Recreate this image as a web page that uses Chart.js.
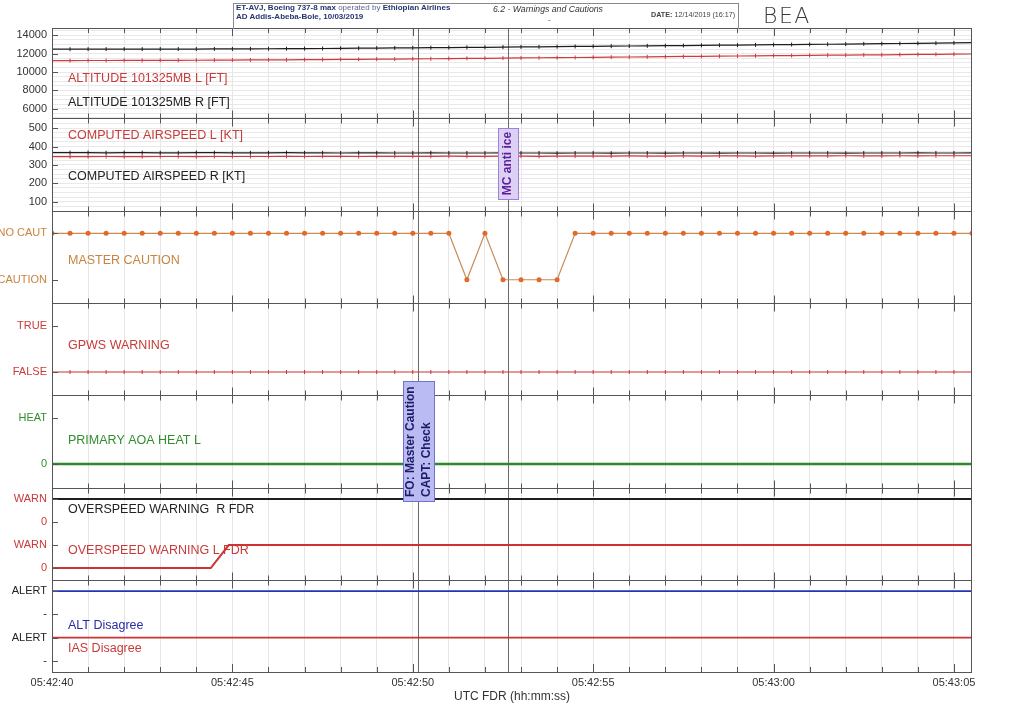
<!DOCTYPE html>
<html>
<head>
<meta charset="utf-8">
<script src="https://cdn.jsdelivr.net/npm/chart.js@4.4.0/dist/chart.umd.min.js"></script>
<style>
  body { margin: 0; background: #fff; }
  #wrap { position: relative; width: 1024px; height: 715px; font-family: "Liberation Sans", Arial, sans-serif; }
  #fdr { position: absolute; left: 0; top: 0; }
  .hd { position: absolute; white-space: nowrap; z-index: 2; }
  .hbox { left: 233px; top: 3px; width: 504px; height: 25px; border: 1px solid #8a8a8a; border-bottom: none; }
  .h1 { left: 236px; top: 3px; font-size: 8px; color: #26366e; }
  .h1 span { color: #5b6690; }
  .h2 { left: 236px; top: 11.5px; font-size: 8px; font-weight: bold; color: #26366e; }
  .htitle { left: 493px; top: 3.5px; font-size: 8.7px; font-style: italic; color: #333; }
  .hdate { left: 651px; top: 10px; font-size: 7.2px; color: #444; }
  .hdash { left: 548px; top: 15px; font-size: 8px; color: #444; }
  .bea { left: 763px; top: 3px; font-family: "DejaVu Sans", sans-serif; font-weight: 200; font-size: 22px; color: #3c3c3c; letter-spacing: 1.5px; }
</style>
</head>
<body>
<div id="wrap">
  <canvas id="fdr" width="1024" height="715"></canvas>
  <div class="hd hbox"></div>
  <div class="hd h1"><b>ET-AVJ, Boeing 737-8 max</b> <span>operated by</span> <b>Ethiopian Airlines</b></div>
  <div class="hd h2">AD Addis-Abeba-Bole, 10/03/2019</div>
  <div class="hd htitle">6.2 - Warnings and Cautions</div>
  <div class="hd hdate"><b>DATE:</b> 12/14/2019 (16:17)</div>
  <div class="hd hdash">-</div>
  <div class="hd bea">BEA</div>
</div>
<script>
// seconds after 05:42:40
const times = [0,0.5,1,1.5,2,2.5,3,3.5,4,4.5,5,5.5,6,6.5,7,7.5,8,8.5,9,9.5,10,10.5,11,11.5,12,12.5,
  13,13.5,14,14.5,15,15.5,16,16.5,17,17.5,18,18.5,19,19.5,20,20.5,21,21.5,22,22.5,23,23.5,24,24.5,25,25.5];
const timeLabels = ["05:42:40", "05:42:45", "05:42:50", "05:42:55", "05:43:00", "05:43:05"];

// altitude 101325mb [ft]
const altR = [12490,12490,12500,12500,12500,12500,12510,12510,12510,12520,
  12520,12530,12540,12550,12560,12570,12590,12600,12610,12630,
  12640,12660,12670,12690,12700,12720,12740,12750,12770,12790,
  12800,12820,12840,12860,12870,12890,12910,12930,12940,12960,
  12980,13000,13010,13030,13050,13070,13090,13110,13130,13150,13170,13200];
const altL = [11250,11250,11260,11260,11270,11270,11280,11280,11290,11300,
  11310,11320,11330,11340,11350,11360,11380,11390,11410,11420,
  11440,11450,11470,11490,11500,11520,11540,11560,11570,11590,
  11610,11630,11640,11660,11680,11700,11720,11730,11750,11770,
  11790,11800,11820,11840,11850,11870,11880,11900,11920,11930,11950,11970];

// computed airspeed [kt]
const spdR = [367,367,367,366,367,367,366,366,367,367,
  366,366,366,367,366,366,365,366,366,365,
  365,366,365,365,365,366,365,365,364,365,
  365,364,365,365,364,365,365,364,365,365,
  364,365,365,365,364,365,365,365,366,365,365,366];
const spdL = [345,345,345,346,345,345,346,346,345,346,
  346,346,346,347,346,347,347,346,347,347,
  347,347,348,347,347,348,348,347,348,348,
  348,348,349,348,348,349,348,349,349,348,
  349,349,349,349,350,349,349,350,349,350,350,350];

// discrete states (1 = NO CAUT, 0 = CAUTION)
const masterCaution = [1,1,1,1,1,1,1,1,1,1,1,1,1,1,1,1,1,1,1,1,1,1,1,
  0,1,0,0,0,0,
  1,1,1,1,1,1,1,1,1,1,1,1,1,1,1,1,1,1,1,1,1,1,1];
const gpws = [0,0,0,0,0,0,0,0,0,0,0,0,0,0,0,0,0,0,0,0,0,0,0,0,0,0,
  0,0,0,0,0,0,0,0,0,0,0,0,0,0,0,0,0,0,0,0,0,0,0,0,0,0];
const spanTimes = [0, 25.5];
const aoaHeat = [0, 0];
const ovsR = [3, 3];          // upper pair of the panel: 2 = 0, 3 = WARN
const ovsLTimes = [0, 4.4, 4.9, 25.5];
const ovsL = [0, 0, 1, 1];    // lower pair: 0 = 0, 1 = WARN
const altDisagree = [3, 3];   // 3 = ALERT
const iasDisagree = [1, 1];   // 1 = ALERT

// tick labels
const altTicks = [6000, 8000, 10000, 12000, 14000];
const spdTicks = [100, 200, 300, 400, 500];
const mcTickVals = [0, 1], mcTickLbls = ["CAUTION", "NO CAUT"];
const gpwsTickVals = [0, 1], gpwsTickLbls = ["FALSE", "TRUE"];
const aoaTickVals = [0, 1], aoaTickLbls = ["0", "HEAT"];
const ovsTickVals = [0, 1, 2, 3], ovsTickLbls = ["0", "WARN", "0", "WARN"];
const disTickVals = [0, 1, 2, 3], disTickLbls = ["-", "ALERT", "-", "ALERT"];

// events: 05:42:50.15 and 05:42:52.64
const eventTimes = [10.15, 12.64];

const pts = (xs, ys) => xs.map((x, i) => ({ x: x, y: ys[i] }));

function numAxis(weight, min, max, minorStep, labels) {
  return {
    type: "linear", position: "left", stack: "fdr", stackWeight: weight,
    min: min, max: max,
    afterBuildTicks: s => {
      const t = [];
      for (let v = min; v <= max; v += minorStep) t.push({ value: v });
      s.ticks = t;
    },
    afterFit: s => { s.width = 52; },
    ticks: {
      autoSkip: false, padding: 5, color: "#333", font: { size: 11 },
      callback: v => labels.includes(v) ? String(v) : ""
    },
    grid: { color: "#e9e9e9", drawTicks: false },
    border: { display: false }
  };
}

function stateAxis(weight, min, max, vals, lbls, color) {
  return {
    type: "linear", position: "left", stack: "fdr", stackWeight: weight,
    min: min, max: max,
    afterBuildTicks: s => { s.ticks = vals.map(v => ({ value: v })); },
    afterFit: s => { s.width = 52; },
    ticks: {
      autoSkip: false, padding: 5, color: color, font: { size: 11 },
      callback: v => lbls[vals.indexOf(v)] ?? ""
    },
    grid: { drawOnChartArea: false, drawTicks: false },
    border: { display: false }
  };
}

// panel captions (offset from panel top)
const captions = [
  { axis: "yDis", dy: 46, text: "ALT Disagree", color: "#2b2ba3" },
  { axis: "yDis", dy: 69, text: "IAS Disagree", color: "#c83a3a" },
  { axis: "yOvs", dy: 22, text: "OVERSPEED WARNING  R FDR", color: "#222" },
  { axis: "yOvs", dy: 63, text: "OVERSPEED WARNING L FDR", color: "#c83a3a" },
  { axis: "yAoa", dy: 46, text: "PRIMARY AOA HEAT L", color: "#2f8f2f" },
  { axis: "yGpws", dy: 43, text: "GPWS WARNING", color: "#c83a3a" },
  { axis: "yMc", dy: 50, text: "MASTER CAUTION", color: "#c8843f" },
  { axis: "ySpd", dy: 18, text: "COMPUTED AIRSPEED L [KT]", color: "#c83a3a" },
  { axis: "ySpd", dy: 59, text: "COMPUTED AIRSPEED R [KT]", color: "#222" },
  { axis: "yAlt", dy: 51, text: "ALTITUDE 101325MB L [FT]", color: "#c83a3a" },
  { axis: "yAlt", dy: 75, text: "ALTITUDE 101325MB R [FT]", color: "#222" }
];

const notes = [
  { t: 12.64, lines: ["MC anti ice"], top: 128, bottom: 199, w: 20, fill: "#dcd0f4", stroke: "#9b82d8", color: "#5a1f99", font: "bold 12px 'Liberation Sans'", center: true },
  { t: 10.15, lines: ["FO: Master Caution", "CAPT: Check"], top: 381, bottom: 501, w: 31, fill: "#babbf2", stroke: "#7272cc", color: "#1c1c66", font: "bold 12px 'Liberation Sans'", center: false }
];

const panelIds = ["yAlt", "ySpd", "yMc", "yGpws", "yAoa", "yOvs", "yDis"];

const fdrDecor = {
  id: "fdrDecor",
  beforeDatasetsDraw(chart) {
    const { ctx, chartArea: a, scales } = chart;
    ctx.save();
    ctx.strokeStyle = "#6a6a6a";
    ctx.lineWidth = 1;
    eventTimes.forEach(t => {
      const px = Math.round(scales.x.getPixelForValue(t)) + 0.5;
      ctx.beginPath(); ctx.moveTo(px, a.top); ctx.lineTo(px, a.bottom); ctx.stroke();
    });
    ctx.font = "12.5px 'Liberation Sans'";
    ctx.textBaseline = "middle";
    ctx.textAlign = "left";
    captions.forEach(c => {
      ctx.fillStyle = c.color;
      ctx.fillText(c.text, a.left + 16, scales[c.axis].top + c.dy);
    });
    ctx.restore();
  },
  afterDatasetsDraw(chart) {
    const { ctx, chartArea: a, scales } = chart;
    const x = scales.x;
    ctx.save();
    ctx.strokeStyle = "#555";
    ctx.lineWidth = 1;
    // frame
    ctx.strokeRect(a.left + 0.5, a.top + 0.5, a.right - a.left - 1, a.bottom - a.top);
    // separators with second ticks
    const seps = panelIds.slice(1).map(id => Math.round(scales[id].top) + 0.5);
    ctx.beginPath();
    seps.forEach(y => { ctx.moveTo(a.left, y); ctx.lineTo(a.right, y); });
    for (let s = 0; s <= 25; s++) {
      const px = Math.round(x.getPixelForValue(s)) + 0.5;
      const len = s % 5 === 0 ? 8 : 5;
      ctx.moveTo(px, a.top); ctx.lineTo(px, a.top + len);
      ctx.moveTo(px, a.bottom); ctx.lineTo(px, a.bottom - len);
      seps.forEach(y => { ctx.moveTo(px, y - len); ctx.lineTo(px, y + len); });
    }
    // inward ticks at labelled values
    panelIds.forEach(id => {
      const sc = scales[id];
      sc.ticks.forEach(tk => {
        if (!tk.label) return;
        const py = Math.round(sc.getPixelForValue(tk.value)) + 0.5;
        ctx.moveTo(a.left, py); ctx.lineTo(a.left + 6, py);
      });
    });
    ctx.stroke();
    // annotation boxes
    notes.forEach(n => {
      const cx = x.getPixelForValue(n.t);
      const l = Math.round(cx - n.w / 2) + 0.5;
      ctx.fillStyle = n.fill;
      ctx.strokeStyle = n.stroke;
      ctx.fillRect(l, n.top + 0.5, n.w, n.bottom - n.top);
      ctx.strokeRect(l, n.top + 0.5, n.w, n.bottom - n.top);
      ctx.save();
      ctx.translate(cx, n.center ? (n.top + n.bottom) / 2 : n.bottom - 4);
      ctx.rotate(-Math.PI / 2);
      ctx.font = n.font;
      ctx.fillStyle = n.color;
      ctx.textBaseline = "middle";
      ctx.textAlign = n.center ? "center" : "left";
      const gap = 16;
      n.lines.forEach((ln, i) => {
        ctx.fillText(ln, 0, (i - (n.lines.length - 1) / 2) * gap);
      });
      ctx.restore();
    });
    ctx.restore();
  }
};

const mkLine = (data, axis, color, width) => ({
  data: data, yAxisID: axis, borderColor: color, borderWidth: width,
  pointRadius: 0, tension: 0, fill: false
});
const tickMarks = (ds) => Object.assign(ds, {
  pointStyle: "line", pointRotation: 90, pointRadius: 2,
  pointBorderWidth: 1, pointBorderColor: ds.borderColor
});

new Chart(document.getElementById("fdr"), {
  type: "line",
  data: {
    datasets: [
      tickMarks(mkLine(pts(times, altL), "yAlt", "#cf3b3b", 1.2)),
      tickMarks(mkLine(pts(times, altR), "yAlt", "#1e1e1e", 1.2)),
      tickMarks(mkLine(pts(times, spdL), "ySpd", "#cf3b3b", 1.2)),
      tickMarks(mkLine(pts(times, spdR), "ySpd", "#1e1e1e", 1.2)),
      Object.assign(mkLine(pts(times, masterCaution), "yMc", "#c98a55", 1.2),
        { pointRadius: 2.5, pointBackgroundColor: "#e0692e", pointBorderWidth: 0 }),
      tickMarks(mkLine(pts(times, gpws), "yGpws", "#c83434", 1.2)),
      mkLine(pts(spanTimes, aoaHeat), "yAoa", "#2a8a2a", 2.5),
      mkLine(pts(spanTimes, ovsR), "yOvs", "#1e1e1e", 2),
      mkLine(pts(ovsLTimes, ovsL), "yOvs", "#d03232", 2),
      mkLine(pts(spanTimes, altDisagree), "yDis", "#2233b8", 1.6),
      mkLine(pts(spanTimes, iasDisagree), "yDis", "#cc3333", 1.6)
    ]
  },
  options: {
    responsive: false,
    animation: false,
    layout: { padding: { top: 28, right: 52, left: 0, bottom: 11 } },
    plugins: { legend: { display: false }, tooltip: { enabled: false } },
    scales: {
      x: {
        type: "linear", position: "bottom", min: 0, max: 25.5,
        afterBuildTicks: s => {
          const t = [];
          for (let v = 0; v <= 25; v++) t.push({ value: v });
          s.ticks = t;
        },
        afterFit: s => { s.height = 32; },
        ticks: {
          autoSkip: false, maxRotation: 0, padding: 4, color: "#333", font: { size: 11 },
          callback: v => v % 5 === 0 ? timeLabels[v / 5] : ""
        },
        grid: { color: "#e6e6e6", drawTicks: false },
        border: { display: false },
        title: { display: true, text: "UTC FDR (hh:mm:ss)", color: "#333", font: { size: 12 }, padding: { top: 1, bottom: 0 } }
      },
      yDis: stateAxis(92, -0.48, 3.48, disTickVals, disTickLbls, "#222"),
      yOvs: stateAxis(92, -0.52, 3.48, ovsTickVals, ovsTickLbls, "#c83a3a"),
      yAoa: stateAxis(93, -0.52, 1.5, aoaTickVals, aoaTickLbls, "#2f8f2f"),
      yGpws: stateAxis(92, -0.5, 1.5, gpwsTickVals, gpwsTickLbls, "#c83a3a"),
      yMc: stateAxis(92, -0.5, 1.48, mcTickVals, mcTickLbls, "#c8843f"),
      ySpd: numAxis(93, 50, 555, 25, spdTicks),
      yAlt: numAxis(90, 5000, 14800, 500, altTicks)
    }
  },
  plugins: [fdrDecor]
});
</script>
</body>
</html>
